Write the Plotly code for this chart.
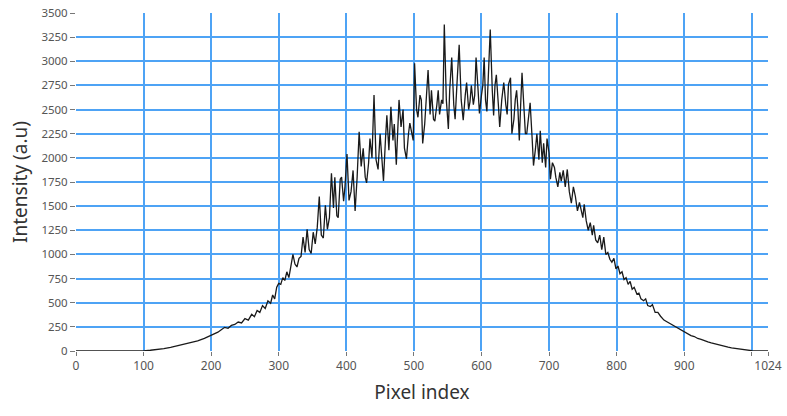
import plotly.graph_objects as go

pixel_index = [0, 20, 40, 60, 80, 100, 110, 120, 130, 140, 150, 160, 170, 180, 190, 200, 210, 215, 220, 225,
    230, 235, 240, 245, 250, 255, 260, 264, 268, 272, 276, 280, 284, 288, 291, 294, 297, 300, 303, 306,
    309, 312, 315, 318, 321, 324, 327, 330, 333, 336, 339, 342, 345, 348, 351, 354, 357, 360, 363, 366,
    369, 372, 375, 378, 381, 383, 386, 388, 391, 393, 396, 398, 401, 404, 407, 410, 413, 416, 419, 422,
    425, 428, 430, 433, 435, 438, 441, 444, 447, 450, 452, 455, 458, 460, 463, 466, 469, 471, 474, 476,
    478, 481, 484, 486, 489, 492, 494, 497, 499, 501, 504, 506, 509, 511, 513, 516, 518, 521, 524, 526,
    529, 531, 534, 536, 538, 541, 543, 545, 548, 551, 553, 556, 559, 561, 564, 567, 570, 573, 576, 578,
    581, 583, 585, 588, 590, 592, 595, 597, 600, 602, 604, 606, 608, 611, 613, 616, 618, 620, 622, 625,
    627, 630, 633, 636, 638, 640, 643, 645, 648, 650, 652, 654, 656, 658, 660, 663, 665, 667, 670, 672,
    675, 677, 680, 682, 685, 687, 690, 692, 695, 697, 700, 702, 705, 708, 710, 713, 716, 718, 721, 724,
    727, 730, 733, 736, 739, 742, 745, 748, 750, 752, 755, 758, 761, 764, 766, 769, 772, 775, 778, 781,
    784, 787, 790, 793, 796, 799, 802, 805, 808, 811, 814, 817, 820, 823, 826, 830, 833, 836, 840, 843,
    846, 850, 853, 857, 861, 865, 870, 875, 880, 885, 890, 895, 900, 905, 910, 915, 920, 925, 930, 935,
    940, 945, 950, 955, 960, 965, 970, 975, 980, 985, 990, 995, 1000, 1010, 1024]

intensity = [0, 0, 0, 0, 0, 2, 8, 15, 25, 38, 55, 70, 88, 105, 130, 160, 195, 220, 245, 235,
    265, 275, 300, 290, 335, 320, 380, 355, 420, 400, 470, 440, 520, 495, 580, 540, 660, 700, 690, 760,
    730, 820, 760, 880, 1000, 900, 870, 960, 980, 1180, 1020, 1260, 1050, 1010, 1230, 1110, 1280, 1600, 1200, 1170,
    1510, 1260, 1380, 1840, 1480, 1800, 1400, 1380, 1780, 1800, 1550, 1700, 2040, 1560, 1650, 1870, 1450, 1800, 2270, 1910,
    2100, 1800, 1740, 1950, 2200, 2000, 2650, 1980, 1880, 2250, 2000, 1760, 2200, 2440, 2080, 2530, 2180, 2350, 1930, 2200,
    2600, 2320, 2500, 2100, 1990, 2250, 2360, 2250, 2180, 2980, 2500, 2420, 2650, 2600, 2150, 2350, 2600, 2910, 2450, 2700,
    2400, 2380, 2550, 2700, 2450, 2600, 2560, 3380, 2600, 2300, 2700, 3040, 2550, 2400, 2800, 3170, 2600, 2390, 2650, 2780,
    2500, 2580, 2750, 2550, 2650, 3040, 2700, 2460, 2650, 2750, 3040, 2600, 2480, 2900, 3330, 2700, 2440, 2750, 2860, 2550,
    2320, 2600, 2780, 2550, 2450, 2760, 2830, 2250, 2400, 2600, 2700, 2500, 2180, 2550, 2880, 2500, 2250, 2250, 2450, 2570,
    2200, 1920, 2100, 2250, 1980, 2280, 1950, 2150, 1900, 2200, 2050, 1780, 1950, 1900, 1800, 1700, 1850, 1760, 1870, 1700,
    1880, 1650, 1530, 1700, 1600, 1450, 1540, 1450, 1380, 1520, 1350, 1250, 1330, 1200, 1300, 1150, 1120, 1200, 1050, 1180,
    1000, 1020, 950, 920, 960, 850, 880, 800, 820, 740, 760, 690, 720, 640, 660, 590, 600, 540, 520, 540,
    470, 460, 480, 400, 400, 360, 320, 300, 280, 260, 235, 215, 195, 175, 160, 150, 130, 120, 105, 95,
    85, 75, 65, 55, 48, 40, 33, 27, 20, 15, 10, 6, 3, 0, 0]

x_tick_vals = [0, 100, 200, 300, 400, 500, 600, 700, 800, 900, 1000, 1024]
x_tick_text = ["0", "100", "200", "300", "400", "500", "600", "700", "800", "900", "", "1024"]
x_grid_vals = [100, 200, 300, 400, 500, 600, 700, 800, 900, 1000]
y_tick_vals = [0, 250, 500, 750, 1000, 1250, 1500, 1750, 2000, 2250, 2500, 2750, 3000, 3250, 3500]
y_grid_vals = [250, 500, 750, 1000, 1250, 1500, 1750, 2000, 2250, 2500, 2750, 3000, 3250]

X_RANGE = [0, 1024]
Y_RANGE = [0, 3500]
GRID = "#4ea3f5"
FONT = "Noto Sans"

fig = go.Figure()
# data drawn on the grid axes (grid below the line)
fig.add_trace(go.Scatter(
    x=pixel_index, y=intensity, mode="lines",
    line=dict(color="#1a1a1a", width=1.3),
    xaxis="x", yaxis="y", showlegend=False,
))
# same data, invisible, on the labelled overlay axes so they are drawn
fig.add_trace(go.Scatter(
    x=pixel_index, y=intensity, mode="lines",
    line=dict(color="rgba(0,0,0,0)", width=0),
    xaxis="x2", yaxis="y2", showlegend=False, hoverinfo="skip",
))

fig.update_layout(
    width=787, height=416,
    margin=dict(l=76, r=19, t=13, b=65, autoexpand=False),
    paper_bgcolor="white", plot_bgcolor="white",
    font=dict(family=FONT, color="#555555", size=12),
    showlegend=False,
    xaxis=dict(range=X_RANGE, tickvals=x_grid_vals, showticklabels=False, ticks="",
               showgrid=True, gridcolor=GRID, gridwidth=1.6, zeroline=False, showline=False,
               automargin=False),
    yaxis=dict(range=Y_RANGE, tickvals=y_grid_vals, showticklabels=False, ticks="",
               showgrid=True, gridcolor=GRID, gridwidth=1.6, zeroline=False, showline=False,
               automargin=False),
    xaxis2=dict(range=X_RANGE, overlaying="x", anchor="y2", side="bottom",
                tickvals=x_tick_vals, ticktext=x_tick_text, tickangle=0,
                ticks="outside", ticklen=4, tickwidth=1, tickcolor="#777777",
                showgrid=False, zeroline=False, showline=False, automargin=False,
                ticklabeloverflow="allow",
                tickfont=dict(family=FONT, size=12, color="#555555"),
                title=dict(text="Pixel index", font=dict(family=FONT, size=19, color="#333333"), standoff=12)),
    yaxis2=dict(range=Y_RANGE, overlaying="y", anchor="x2", side="left",
                tickvals=y_tick_vals, ticktext=[str(v) for v in y_tick_vals],
                ticks="outside", ticklen=5, tickwidth=1, tickcolor="#777777",
                showgrid=False, zeroline=False, showline=False, automargin=False,
                ticklabeloverflow="allow",
                tickfont=dict(family=FONT, size=11.5, color="#555555"),
                title=dict(text="Intensity (a.u)", font=dict(family=FONT, size=19, color="#333333"), standoff=8)),
)

# remove the default 8px page margin so the figure fills the window exactly
fig.write_html("out.html",
               config={"displayModeBar": False},
               post_script="document.body.style.margin='0';document.body.style.overflow='hidden';")
